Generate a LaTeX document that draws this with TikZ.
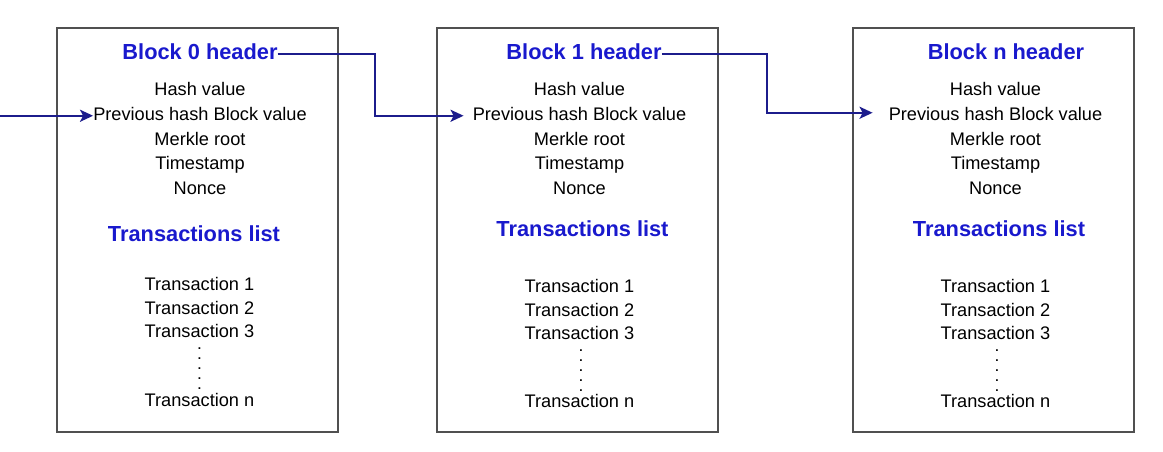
\documentclass[tikz,border=0pt]{standalone}
\usepackage{fontspec}
\setmainfont{Liberation Sans}
\usepackage{tikz}
\usetikzlibrary{arrows.meta, positioning}
\definecolor{headerblue}{RGB}{25, 25, 205}
\definecolor{linknavy}{RGB}{28, 28, 140}
\definecolor{boxgray}{RGB}{80, 80, 80}

\begin{document}
\begin{tikzpicture}[x=1pt, y=-1pt, on grid, node distance=24.75pt,
    blockbox/.style={rectangle, draw=boxgray, line width=1.4pt, minimum width=281pt, minimum height=404pt, inner sep=0pt},
    header/.style={inner sep=0pt, text=headerblue, font=\fontsize{21.8}{26}\selectfont\bfseries, text height=15pt, text depth=4pt},
    field/.style={inner sep=0pt, font=\fontsize{18.2}{22}\selectfont, text height=13pt, text depth=4pt},
    vdots/.style={inner sep=0pt, align=center, font=\fontsize{12}{10}\selectfont\bfseries},
    link/.style={-{Stealth[length=13pt, width=12pt, inset=3pt]}, line width=2pt, linknavy}
]
\useasboundingbox (0,0) rectangle (1163,451);

\node (box0) [blockbox] at (197.5,230) {};
\node (box1) [blockbox, right=380pt of box0] {};
\node (boxn) [blockbox, right=416pt of box1] {};

\node (hash0)   [field, below=55pt of box0.north, xshift=2.5pt] {Hash value};
\node (head0)   [header, above=37pt of hash0] {Block 0 header};
\node (prev0)   [field, below=of hash0] {Previous hash Block value};
\node (merkle0) [field, below=of prev0] {Merkle root};
\node (time0)   [field, below=of merkle0] {Timestamp};
\node (nonce0)  [field, below=of time0] {Nonce};
\node (list0)   [header, below=46pt of nonce0, xshift=-6pt] {Transactions list};
\node (tx10)    [field, below=50pt of list0, xshift=5.5pt] {Transaction 1};
\node (tx20)    [field, below=24pt of tx10] {Transaction 2};
\node (tx30)    [field, below=23pt of tx20] {Transaction 3};
\node (dots0)   [vdots, below=36pt of tx30] {.\\.\\.\\.\\.};
\node (txn0)    [field, below=69pt of tx30] {Transaction n};

\node (hash1)   [field, below=55pt of box1.north, xshift=2pt] {Hash value};
\node (head1)   [header, above=37pt of hash1, xshift=4.5pt] {Block 1 header};
\node (prev1)   [field, below=of hash1] {Previous hash Block value};
\node (merkle1) [field, below=of prev1] {Merkle root};
\node (time1)   [field, below=of merkle1] {Timestamp};
\node (nonce1)  [field, below=of time1] {Nonce};
\node (list1)   [header, below=41pt of nonce1, xshift=3pt] {Transactions list};
\node (tx11)    [field, below=57pt of list1, xshift=-3pt] {Transaction 1};
\node (tx21)    [field, below=24pt of tx11] {Transaction 2};
\node (tx31)    [field, below=23pt of tx21] {Transaction 3};
\node (dots1)   [vdots, below=36pt of tx31, xshift=1.5pt] {.\\.\\.\\.\\.};
\node (txn1)    [field, below=68pt of tx31] {Transaction n};

\node (hashn)   [field, below=55pt of boxn.north, xshift=2pt] {Hash value};
\node (headn)   [header, above=37pt of hashn, xshift=10.5pt] {Block n header};
\node (prevn)   [field, below=of hashn] {Previous hash Block value};
\node (merklen) [field, below=of prevn] {Merkle root};
\node (timen)   [field, below=of merklen] {Timestamp};
\node (noncen)  [field, below=of timen] {Nonce};
\node (listn)   [header, below=41pt of noncen, xshift=3.5pt] {Transactions list};
\node (tx1n)    [field, below=57pt of listn, xshift=-3.5pt] {Transaction 1};
\node (tx2n)    [field, below=24pt of tx1n] {Transaction 2};
\node (tx3n)    [field, below=23pt of tx2n] {Transaction 3};
\node (dotsn)   [vdots, below=36pt of tx3n, xshift=1.5pt] {.\\.\\.\\.\\.};
\node (txnn)    [field, below=68pt of tx3n] {Transaction n};

\coordinate (entry) at (current bounding box.west |- prev0.west);

\draw [link] (entry) -- (prev0.west);
\draw [link] (head0.east) -- ++(97,0) |- ([xshift=-9pt]prev1.west);
\draw [link] (head1.east) -- ++(105,0) |- ([xshift=-16pt, yshift=3pt]prevn.west);

\end{tikzpicture}
\end{document}
